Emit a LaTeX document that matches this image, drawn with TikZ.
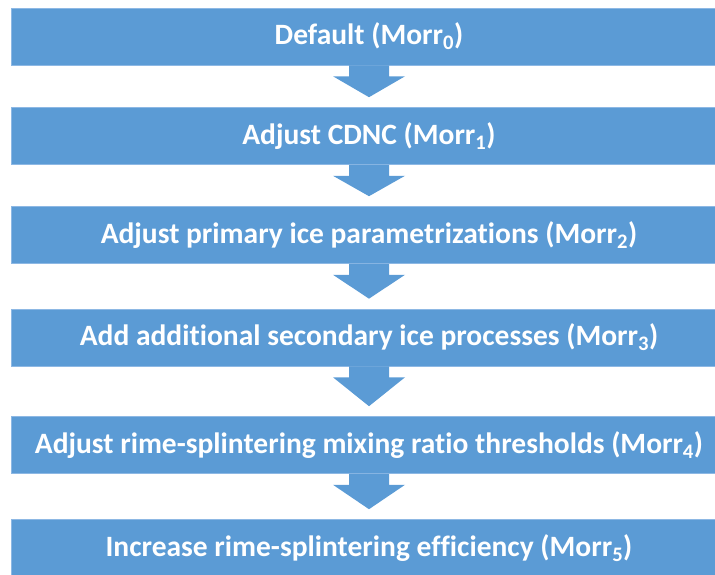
\documentclass[tikz,border=0pt]{standalone}
\usepackage{fontspec}
\setmainfont{Carlito}[Ligatures=NoCommon]
\usepackage{xcolor}
\usepackage{tikz}
\usetikzlibrary{positioning}

\definecolor{flowblue}{HTML}{5B9BD5}
\definecolor{flowedge}{HTML}{8DB8E4}

\tikzset{
  flowbox/.style={rectangle, fill=flowblue, draw=flowedge, line width=0.6pt,
    minimum width=716pt, minimum height=57pt, inner sep=0pt,
    text=white, font=\fontsize{29.5}{34}\selectfont\bfseries},
  flowarrow/.style={fill=flowblue, draw=none}
}

% down arrow from one box to the next
\newcommand{\boxarrow}[2]{%
  \fill[flowarrow] ([xshift=-20pt]#1.south) -- ([xshift=-20pt,yshift=-11pt]#1.south)
    -- ([xshift=-36pt,yshift=-11pt]#1.south) -- ([yshift=10pt]#2.north)
    -- ([xshift=36pt,yshift=-11pt]#1.south) -- ([xshift=20pt,yshift=-11pt]#1.south)
    -- ([xshift=20pt]#1.south) -- cycle;}

\begin{document}
\begin{tikzpicture}[x=1pt, y=1pt]
    \clip (0,0) rectangle (715,-575);

    % the six steps
    \node[flowbox] (morr0) at (369,-36.5) {Default (Morr\textsubscript{0})};
    \node[flowbox] (morr1) at (369,-136) {Adjust CDNC (Morr\textsubscript{1})};
    \node[flowbox] (morr2) at (369,-235) {Adjust primary ice parametrizations (Morr\textsubscript{2})};
    \node[flowbox] (morr3) at (369,-337.5) {Add additional secondary ice processes (Morr\textsubscript{3})};
    \node[flowbox] (morr4) at (369,-445) {Adjust rime-splintering mixing ratio thresholds (Morr\textsubscript{4})};
    \node[flowbox] (morr5) at (369,-548) {Increase rime-splintering efficiency (Morr\textsubscript{5})};

    % arrows between them
    \boxarrow{morr0}{morr1}
    \boxarrow{morr1}{morr2}
    \boxarrow{morr2}{morr3}
    \boxarrow{morr3}{morr4}
    \boxarrow{morr4}{morr5}
\end{tikzpicture}
\end{document}
